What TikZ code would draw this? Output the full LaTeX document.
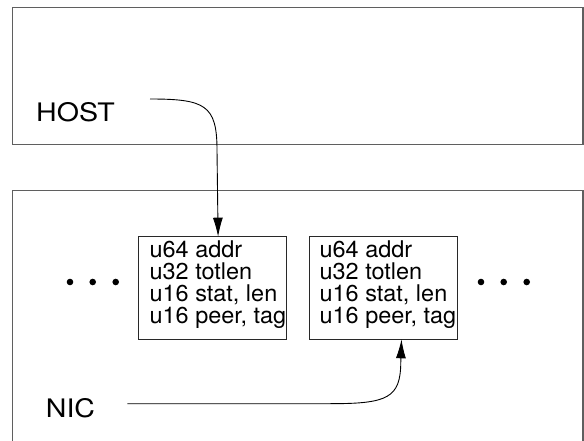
\documentclass[tikz,border=0pt]{standalone}
\usepackage{fontspec}
\usepackage{graphicx}
\setmainfont{TeX Gyre Heros}
\usetikzlibrary{arrows.meta}
\definecolor{framegray}{RGB}{95,95,95}
\definecolor{cellline}{RGB}{40,40,40}
\newcommand{\wideby}[2]{\scalebox{#1}[1]{#2}}
\begin{document}
\begin{tikzpicture}[x=1pt,y=-1pt,
  frame/.style={draw=framegray,line width=1.4pt},
  cell/.style={draw=cellline,line width=0.9pt,rectangle,inner sep=0pt,outer sep=0pt,
    minimum width=148.6pt,minimum height=102.6pt,anchor=north west},
  field/.style={inner sep=0pt,anchor=base west,font=\fontsize{23}{22.2}\selectfont},
  label/.style={inner sep=0pt,anchor=base west,font=\fontsize{25.5}{26}\selectfont},
  arr/.style={draw=black,line width=0.9pt,-{Latex[length=19pt,width=10pt]}},
  dot/.style={fill=black,draw=none}]
\useasboundingbox (0,0) rectangle (584,441);
% outer frames
\draw[frame] (12.5,7.5) rectangle (583,144.3);
\draw[frame] (12.5,445) -- (12.5,190.7) -- (583,190.7) -- (583,445);
% labels
\node[label] (host) at (36,121.7) {\wideby{1.12}{HOST}};
\node[label] (nic) at (45.7,417.5) {\wideby{1.12}{NIC}};
% descriptor boxes
\node[cell] (d1) at (138.3,236.7) {};
\node[cell] (d2) at (309.3,236.7) {};
\foreach \b/\x in {1/149.4,2/319.4}{
  \node[field] (f\b a) at (\x,257.3) {\wideby{1.02}{u64 addr}};
  \node[field] (f\b b) at (\x,279.5) {\wideby{1.02}{u32 totlen}};
  \node[field] (f\b c) at (\x,301.7) {\wideby{1.02}{u16 stat, len}};
  \node[field] (f\b d) at (\x,323.9) {\wideby{1.02}{u16 peer, tag}};
}
% ellipsis dots
\foreach \x in {70,92.7,115.7,481,503.7,526.7}{
  \fill[dot] (\x,282) circle (3.3);
}
% connectors
\coordinate (hs) at (150,99);
\coordinate (ns) at (127.4,403.7);
\draw[arr] (hs) .. controls (205,99) and (217,105) .. (217,150) -- ([xshift=5.5pt]d1.north);
\draw[arr] (ns) -- (330,403.7) .. controls (388,403.7) and (400.5,398) .. (400.8,362) -- ([xshift=17.9pt]d2.south);
\end{tikzpicture}
\end{document}
